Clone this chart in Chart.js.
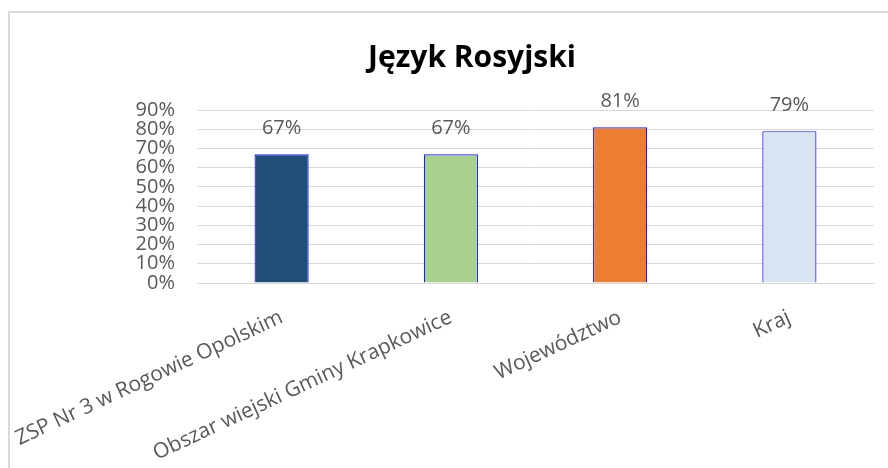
<!DOCTYPE html>
<html>
<head>
<meta charset="utf-8">
<script src="https://cdn.jsdelivr.net/npm/chart.js@4"></script>
<style>
  html, body { margin: 0; padding: 0; background: #fff; }
  #frame { position: absolute; left: 8px; top: 11px; width: 900px; height: 480px; border: 2px solid #d9d9d9; box-sizing: border-box; }
  #wrap { position: absolute; left: 0; top: 0; width: 888px; height: 468px; }
</style>
</head>
<body>
<div id="frame"></div>
<div id="wrap"><canvas id="chart" width="888" height="468"></canvas></div>
<script>
var categories = ["ZSP Nr 3 w Rogowie Opolskim", "Obszar wiejski Gminy Krapkowice", "Województwo", "Kraj"];
var values = [0.67, 0.67, 0.81, 0.79];
var barColors = ["#1f4e79", "#a9d18e", "#ed7d31", "#dae3f3"];
var tickValues = [0, 0.1, 0.2, 0.3, 0.4, 0.5, 0.6, 0.7, 0.8, 0.9];

var fontFamily = "'Open Sans', sans-serif";

// percent labels above each bar
var valueLabels = {
  id: "valueLabels",
  afterDatasetsDraw: function(chart) {
    var ctx = chart.ctx;
    var meta = chart.getDatasetMeta(0);
    ctx.save();
    ctx.font = "20px " + fontFamily;
    ctx.fillStyle = "#595959";
    ctx.textAlign = "center";
    ctx.textBaseline = "middle";
    meta.data.forEach(function(bar, i) {
      ctx.fillText(Math.round(values[i] * 100) + "%", bar.x, bar.y - 26);
    });
    ctx.restore();
  }
};

var chart = new Chart(document.getElementById("chart"), {
  type: "bar",
  data: {
    labels: categories,
    datasets: [{
      data: values,
      backgroundColor: barColors,
      borderColor: "#1a1aff",
      borderWidth: 1.2,
      barPercentage: 0.8,
      categoryPercentage: 0.4
    }]
  },
  options: {
    responsive: false,
    animation: false,
    // left/right padding unequal so the title sits where the original has it
    layout: { padding: { left: 70, right: 14, top: 12, bottom: 4 } },
    plugins: {
      legend: { display: false },
      tooltip: { enabled: false },
      title: {
        display: true,
        text: "Język Rosyjski",
        color: "#000",
        font: { family: fontFamily, size: 30, weight: "bold", lineHeight: 1.2 },
        padding: { top: 28, bottom: 34 }
      }
    },
    scales: {
      x: {
        grid: { display: false },
        border: { color: "#d9d9d9" },
        ticks: {
          color: "#595959",
          font: { family: fontFamily, size: 21 },
          minRotation: 25,
          maxRotation: 25,
          autoSkip: false,
          padding: 14
        },
        afterFit: function(scale) {
          scale.height = 181;
          // long rotated labels may run past the plot's left edge
          scale.paddingLeft = 0;
          scale.paddingRight = 0;
        }
      },
      y: {
        min: 0,
        max: 0.9,
        afterBuildTicks: function(scale) {
          scale.ticks = tickValues.map(function(v) { return { value: v }; });
        },
        grid: { color: "#d9d9d9", drawTicks: false },
        border: { display: false },
        ticks: {
          color: "#595959",
          font: { family: fontFamily, size: 20, lineHeight: 1 },
          padding: 22,
          autoSkip: false,
          callback: function(v) { return Math.round(v * 100) + "%"; }
        },
        afterFit: function(scale) { scale.width = 127; }
      }
    }
  },
  plugins: [valueLabels]
});
</script>
</body>
</html>
